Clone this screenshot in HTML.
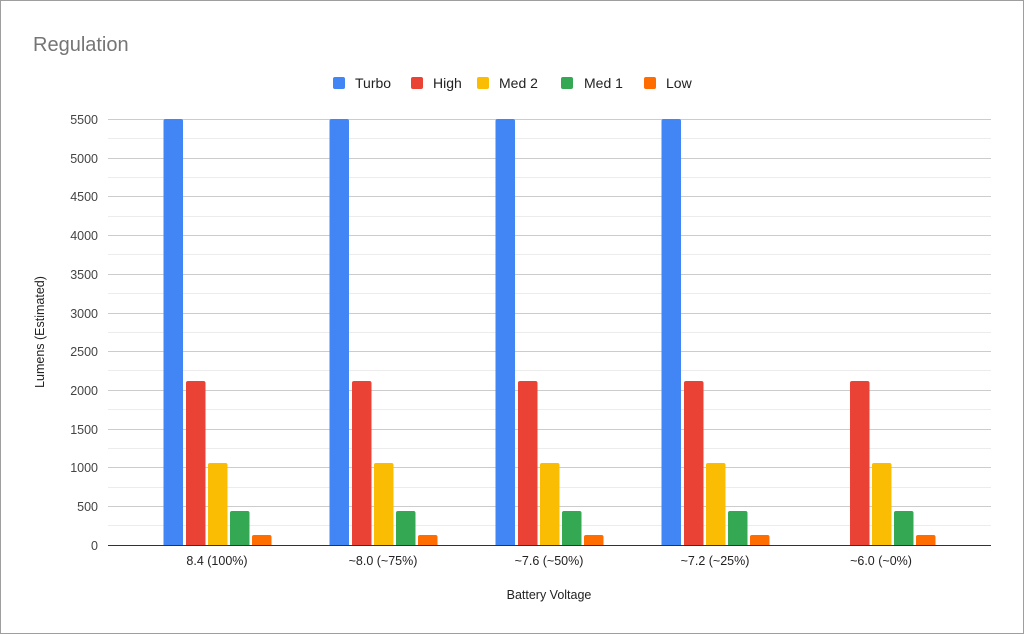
<!DOCTYPE html>
<html><head><meta charset="utf-8"><style>
html,body{margin:0;padding:0;background:#fff}
svg{display:block;font-family:"Liberation Sans",Arial,sans-serif}
</style></head><body>
<svg width="1024" height="634" viewBox="0 0 1024 634" xmlns="http://www.w3.org/2000/svg">
<rect x="0.5" y="0.5" width="1023" height="633" fill="#fff" stroke="#9e9e9e"/>
<text x="33" y="51" font-size="20" fill="#757575">Regulation</text>
<g font-size="14" fill="#222">
<rect x="333" y="77" width="12" height="12" rx="2" fill="#4285f4"/><text x="355" y="88">Turbo</text>
<rect x="411" y="77" width="12" height="12" rx="2" fill="#ea4335"/><text x="433" y="88">High</text>
<rect x="477" y="77" width="12" height="12" rx="2" fill="#fbbc04"/><text x="499" y="88">Med 2</text>
<rect x="561" y="77" width="12" height="12" rx="2" fill="#34a853"/><text x="584" y="88">Med 1</text>
<rect x="644" y="77" width="12" height="12" rx="2" fill="#ff6d01"/><text x="666" y="88">Low</text>
</g>
<g stroke="#ececec" stroke-width="1">
<line x1="108" x2="991" y1="138.5" y2="138.5"/><line x1="108" x2="991" y1="177.5" y2="177.5"/>
<line x1="108" x2="991" y1="216.5" y2="216.5"/><line x1="108" x2="991" y1="254.5" y2="254.5"/>
<line x1="108" x2="991" y1="293.5" y2="293.5"/><line x1="108" x2="991" y1="332.5" y2="332.5"/>
<line x1="108" x2="991" y1="370.5" y2="370.5"/><line x1="108" x2="991" y1="409.5" y2="409.5"/>
<line x1="108" x2="991" y1="448.5" y2="448.5"/><line x1="108" x2="991" y1="487.5" y2="487.5"/>
<line x1="108" x2="991" y1="525.5" y2="525.5"/>
</g>
<g stroke="#cccccc" stroke-width="1">
<line x1="108" x2="991" y1="119.5" y2="119.5"/><line x1="108" x2="991" y1="158.5" y2="158.5"/>
<line x1="108" x2="991" y1="196.5" y2="196.5"/><line x1="108" x2="991" y1="235.5" y2="235.5"/>
<line x1="108" x2="991" y1="274.5" y2="274.5"/><line x1="108" x2="991" y1="313.5" y2="313.5"/>
<line x1="108" x2="991" y1="351.5" y2="351.5"/><line x1="108" x2="991" y1="390.5" y2="390.5"/>
<line x1="108" x2="991" y1="429.5" y2="429.5"/><line x1="108" x2="991" y1="467.5" y2="467.5"/>
<line x1="108" x2="991" y1="506.5" y2="506.5"/>
</g>
<g font-size="12.5" fill="#444" text-anchor="end">
<text x="98" y="124">5500</text><text x="98" y="163">5000</text><text x="98" y="201">4500</text>
<text x="98" y="240">4000</text><text x="98" y="279">3500</text><text x="98" y="318">3000</text>
<text x="98" y="356">2500</text><text x="98" y="395">2000</text><text x="98" y="434">1500</text>
<text x="98" y="472">1000</text><text x="98" y="511">500</text><text x="98" y="550">0</text>
</g>
<g id="g0">
<rect x="163.5" y="119" width="19.5" height="428" rx="2" fill="#4285f4"/>
<rect x="186" y="381" width="19.5" height="166" rx="2" fill="#ea4335"/>
<rect x="208" y="463" width="19.5" height="84" rx="2" fill="#fbbc04"/>
<rect x="230" y="511" width="19.5" height="36" rx="2" fill="#34a853"/>
<rect x="252" y="535" width="19.5" height="12" rx="2" fill="#ff6d01"/>
</g>
<use href="#g0" x="166"/><use href="#g0" x="332"/><use href="#g0" x="498"/>
<g transform="translate(664,0)">
<rect x="186" y="381" width="19.5" height="166" rx="2" fill="#ea4335"/>
<rect x="208" y="463" width="19.5" height="84" rx="2" fill="#fbbc04"/>
<rect x="230" y="511" width="19.5" height="36" rx="2" fill="#34a853"/>
<rect x="252" y="535" width="19.5" height="12" rx="2" fill="#ff6d01"/>
</g>
<rect x="108" y="545" width="883" height="4" fill="#fff"/>
<line x1="108" x2="991" y1="545.5" y2="545.5" stroke="#333"/>
<g font-size="12.5" fill="#222" text-anchor="middle">
<text x="217" y="565">8.4 (100%)</text><text x="383" y="565">~8.0 (~75%)</text>
<text x="549" y="565">~7.6 (~50%)</text><text x="715" y="565">~7.2 (~25%)</text>
<text x="881" y="565">~6.0 (~0%)</text>
<text x="549" y="599">Battery Voltage</text>
<text transform="translate(44,332) rotate(-90)">Lumens (Estimated)</text>
</g>
</svg>
</body></html>
